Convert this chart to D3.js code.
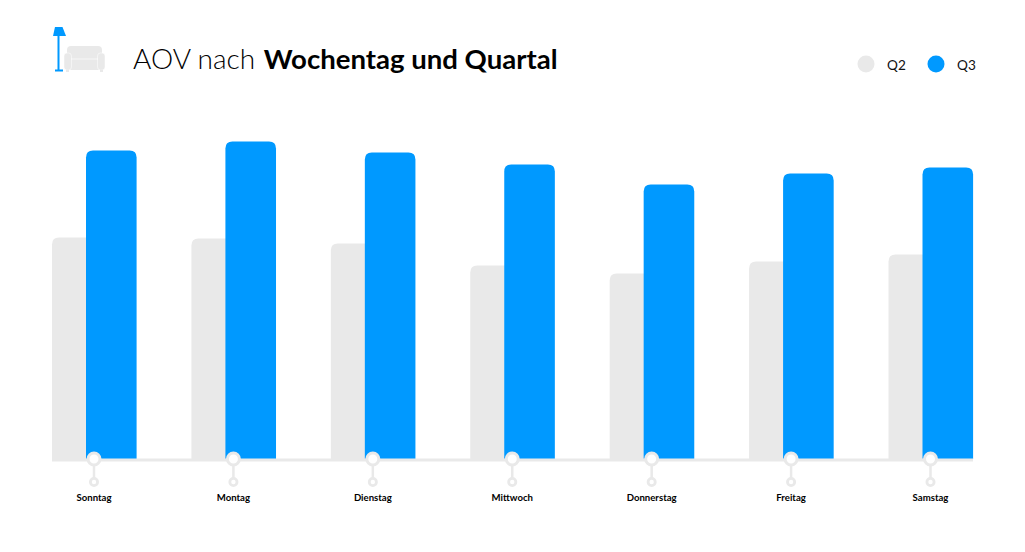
<!DOCTYPE html>
<html><head><meta charset="utf-8">
<script src="https://cdn.jsdelivr.net/npm/d3@7"></script>
<style>html,body{margin:0;padding:0;background:#fff}svg{display:block}text{font-family:Lato,"Open Sans",sans-serif}</style>
</head><body><div id="chart"></div>
<script>
const days = ["Sonntag","Montag","Dienstag","Mittwoch","Donnerstag","Freitag","Samstag"];
const q2 = [221.5,220.5,215.5,193.5,185.5,197.5,204.5];
const q3 = [308.5,317.5,306.5,294.5,274.5,285.5,291.5];
const seriesNames = ["Q2","Q3"];
const colors = ["#e9e9e9","#0099ff"];

const W=1025,H=552;
const svg=d3.select("#chart").append("svg").attr("width",W).attr("height",H);
const base=459;
const y=d3.scaleLinear().domain([0,320]).range([base,base-320]);
const x=d3.scalePoint().domain(days).range([94,930.5]);
const bw=50.6, off=[-42,-8];

function topRound(cx,top,w,r){
  const b=y(0);
  return `M${cx},${b}V${top+r}Q${cx},${top} ${cx+r},${top}H${cx+w-r}Q${cx+w},${top} ${cx+w},${top+r}V${b}Z`;
}
// Q2 bars
svg.append("g").selectAll("path").data(days).join("path")
  .attr("fill",colors[0]).attr("d",(d,i)=>topRound(x(d)+off[0],y(q2[i]),bw,7));
// Q3 bars
svg.append("g").selectAll("path").data(days).join("path")
  .attr("fill",colors[1]).attr("d",(d,i)=>topRound(x(d)+off[1],y(q3[i]),bw,7));
// baseline
svg.append("line").attr("x1",52).attr("x2",973).attr("y1",base+1).attr("y2",base+1)
  .attr("stroke","#e9e9e9").attr("stroke-width",3);
// ticks
const tick=svg.append("g").selectAll("g").data(days).join("g").attr("transform",d=>`translate(${x(d)},0)`);
tick.append("line").attr("y1",466).attr("y2",479).attr("stroke","#e9e9e9").attr("stroke-width",2.5);
tick.append("circle").attr("cy",459).attr("r",6).attr("fill","#fff").attr("stroke","#e9e9e9").attr("stroke-width",3);
tick.append("circle").attr("cy",482).attr("r",3.6).attr("fill","#fff").attr("stroke","#e9e9e9").attr("stroke-width",2.8);
tick.append("text").attr("y",501).attr("text-anchor","middle").attr("font-size",9.6).attr("font-weight",700).attr("fill","#000").text(d=>d);

// title
const t=svg.append("text").attr("x",133).attr("y",69).attr("font-size",28).attr("fill","#000");
t.append("tspan").attr("font-weight",300).text("AOV nach ");
t.append("tspan").attr("font-weight",700).attr("font-size",27.55).attr("dx",1).text("Wochentag und Quartal");

// legend
const lx=[866,936];
const lg=svg.append("g").selectAll("g").data(seriesNames).join("g");
lg.append("circle").attr("cx",(d,i)=>lx[i]).attr("cy",64).attr("r",8.5).attr("fill",(d,i)=>colors[i]);
lg.append("text").attr("x",(d,i)=>lx[i]+21).attr("y",69.5).attr("font-size",13.6).attr("fill","#111").text(d=>d);

// icon: lamp
const ic=svg.append("g");
ic.append("path").attr("d","M55,27H62.5L66,36H53Z").attr("fill","#0099ff");
ic.append("rect").attr("x",57.5).attr("y",36).attr("width",2).attr("height",34).attr("fill","#0099ff");
ic.append("rect").attr("x",55).attr("y",69.5).attr("width",8).attr("height",2).attr("fill","#0099ff");
// icon: sofa
ic.append("rect").attr("x",67).attr("y",46).attr("width",35).attr("height",24).attr("rx",4).attr("fill","#e9e9e9");
ic.append("rect").attr("x",64).attr("y",53).attr("width",7.5).attr("height",17).attr("rx",3).attr("fill","#e9e9e9").attr("stroke","#fff").attr("stroke-width",.5);
ic.append("rect").attr("x",97.5).attr("y",53).attr("width",7.5).attr("height",17).attr("rx",3).attr("fill","#e9e9e9").attr("stroke","#fff").attr("stroke-width",.5);
ic.append("line").attr("x1",71).attr("x2",98).attr("y1",59).attr("y2",59).attr("stroke","#fff").attr("stroke-width",.7);
ic.append("rect").attr("x",66).attr("y",69.5).attr("width",3).attr("height",2.5).attr("fill","#e9e9e9");
ic.append("rect").attr("x",100).attr("y",69.5).attr("width",3).attr("height",2.5).attr("fill","#e9e9e9");
</script></body></html>
